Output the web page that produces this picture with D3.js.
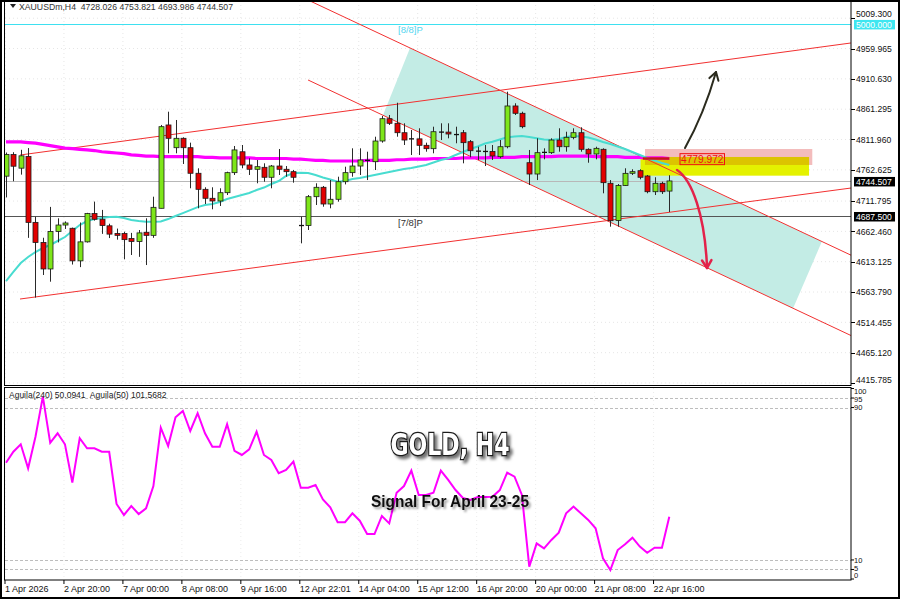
<!DOCTYPE html>
<html><head><meta charset="utf-8">
<script src="https://cdn.jsdelivr.net/npm/d3@7/dist/d3.min.js"></script>
<style>
html,body{margin:0;padding:0;background:#fff;overflow:hidden}
svg{display:block}
text{font-family:Arial,"Liberation Sans",sans-serif}
</style></head><body>
<svg id="chart" width="900" height="599"></svg>
<script>
// ---------------- data ----------------
const headerText = "XAUUSDm,H4  4728.026 4753.821 4693.986 4744.507";
const indicatorHeader = "Aguila(240) 50.0941  Aguila(50) 101.5682";

const openP = [4752.3,4787.5,4765.3,4784.3,4677.1,4644.5,4601.3,4662.4,4672.8,4667.5,
4614.5,4645.4,4691.4,4682.2,4671.5,4659.0,4659.0,4651.0,4646.0,4661.0,
4656.0,4700.0,4835.6,4798.6,4813.9,4798.6,4757.0,4730.9,4716.3,4711.9,
4725.4,4758.0,4792.0,4770.5,4763.5,4766.7,4750.5,4768.8,4763.5,4759.6,
4673.5,4672.0,4718.9,4734.2,4707.0,4714.7,4743.3,4758.0,4768.8,4778.6,
4775.8,4809.5,4845.8,4838.3,4823.0,4813.5,4813.0,4802.5,4797.0,4824.6,
4824.0,4820.9,4823.0,4808.4,4793.7,4793.0,4792.5,4784.0,4800.2,4866.5,
4854.6,4774.2,4755.8,4790.5,4790.5,4811.1,4800.2,4815.5,4823.0,4796.0,
4788.4,4796.0,4740.7,4680.0,4737.0,4757.0,4761.2,4752.6,4727.0,4740.7,
4728.026];
const highP = [4790.8,4791.3,4795.2,4798.0,4686.3,4652.1,4702.3,4683.7,4678.7,4668.6,
4676.9,4692.6,4710.9,4697.4,4674.9,4667.0,4662.0,4660.0,4664.7,4683.7,
4718.9,4835.6,4857.2,4843.7,4815.5,4806.8,4765.1,4734.2,4734.2,4732.6,
4759.6,4801.4,4803.0,4781.4,4778.6,4773.2,4770.5,4796.5,4768.8,4762.3,
4686.3,4721.6,4740.7,4736.3,4746.0,4751.4,4767.7,4797.6,4797.6,4792.1,
4816.5,4850.2,4851.8,4871.8,4838.3,4827.4,4830.2,4806.8,4832.8,4838.3,
4838.3,4832.8,4827.4,4811.1,4800.2,4803.0,4803.0,4811.1,4889.7,4870.9,
4857.2,4794.9,4813.9,4797.6,4813.9,4830.2,4824.6,4830.2,4831.8,4797.6,
4800.2,4797.6,4746.0,4739.5,4765.1,4763.5,4763.5,4754.2,4750.5,4743.3,
4753.821];
const lowP = [4717.7,4744.0,4754.8,4651.9,4554.7,4591.5,4580.6,4644.5,4666.4,4608.5,
4604.3,4644.3,4680.0,4658.4,4651.6,4649.0,4617.0,4624.0,4621.0,4607.7,
4652.0,4700.0,4789.5,4789.5,4772.1,4732.6,4700.0,4707.0,4698.4,4703.8,
4721.6,4754.2,4765.1,4754.2,4740.7,4743.3,4732.6,4754.2,4751.4,4741.7,
4643.0,4664.7,4705.4,4702.6,4700.0,4710.8,4738.9,4751.4,4754.2,4746.0,
4762.3,4806.8,4835.6,4816.5,4803.0,4786.7,4786.7,4792.1,4789.5,4811.1,
4813.9,4805.8,4773.2,4783.0,4778.6,4768.8,4778.6,4781.4,4797.6,4851.8,
4830.2,4737.9,4746.0,4779.7,4788.4,4792.1,4792.1,4812.3,4792.1,4774.2,
4779.7,4724.4,4670.1,4670.1,4736.3,4754.2,4747.2,4724.4,4721.6,4723.3,
4693.986];
const closeP = [4787.5,4768.5,4785.4,4677.1,4644.5,4601.3,4662.4,4672.8,4676.1,4614.5,
4645.4,4691.4,4682.2,4672.0,4658.0,4656.0,4649.0,4646.0,4660.0,4656.0,
4701.6,4832.8,4813.9,4813.9,4798.6,4757.0,4730.9,4716.3,4711.9,4725.4,
4758.0,4795.0,4770.5,4763.5,4767.7,4750.5,4768.8,4763.5,4759.6,4750.5,
4672.0,4718.9,4734.2,4707.0,4714.7,4743.3,4758.0,4768.8,4778.6,4778.0,
4809.5,4845.8,4838.3,4823.0,4811.1,4813.0,4802.5,4797.0,4824.6,4824.0,
4820.9,4820.0,4806.8,4793.7,4793.0,4792.5,4785.1,4800.2,4866.5,4854.6,
4832.8,4755.8,4790.5,4791.0,4811.1,4800.2,4815.5,4823.0,4796.0,4788.4,
4797.6,4741.7,4679.8,4737.0,4756.9,4759.6,4750.5,4727.0,4740.7,4727.0,
4744.507];

// slow moving average (magenta) and fast moving average (turquoise)
const maSlow = [4808,4808,4808,4807,4806,4804,4802,4800,4798,4797,
4796,4795,4794,4792,4791,4790,4789,4787,4786,4785,
4785,4784,4784,4784,4784,4784,4784,4783,4783,4782,
4782,4782,4782,4782,4781,4781,4781,4781,4781,4780,
4780,4779,4778,4778,4777,4777,4777,4777,4777,4778,
4778,4778,4778,4779,4779,4780,4780,4780,4781,4781,
4781,4781,4782,4782,4782,4782,4783,4783,4783,4783,
4784,4784,4784,4784,4784,4785,4785,4785,4785,4785,
4784,4784,4784,4784,4783,4783,4783,4782,4782,4782,4781];
const maFast = [4581.7,4596.4,4611.0,4620.8,4628.9,4635.4,4640.3,4646.8,4653.3,4663.0,
4672.8,4679.3,4682.5,4684.2,4685.8,4686.3,4684.2,4680.9,4679.3,4678.2,
4678.2,4678.5,4682.5,4687.4,4692.2,4697.1,4702.0,4705.4,4706.9,4710.3,
4715.1,4718.4,4721.6,4724.9,4729.8,4733.8,4739.5,4744.4,4752.6,4757.4,
4757.9,4757.4,4754.2,4750.1,4746.9,4743.3,4744.4,4747.7,4749.3,4751.7,
4754.2,4756.6,4759.1,4761.5,4764.0,4765.6,4768.0,4770.5,4774.5,4778.6,
4781.4,4786.7,4791.6,4796.5,4800.6,4805.4,4808.4,4812.0,4815.5,4816.8,
4817.6,4816.0,4813.9,4812.0,4811.1,4812.8,4816.0,4817.6,4816.8,4815.2,
4812.0,4807.9,4804.6,4800.6,4796.5,4791.6,4786.7,4781.9,4777.8,4773.7,4770.5];

const aguila = [61.0,66.8,70.7,58.1,74.7,95.7,71.5,76.5,70.7,50.6,
73.9,68.6,68.6,66.8,66.8,39.4,33.6,38.3,34.1,37.1,
48.8,79.4,69.8,84.9,88.2,77.7,87.0,76.5,69.4,69.4,
81.2,67.3,65.1,68.1,77.3,65.1,62.5,55.5,57.2,61.6,
47.9,47.9,49.3,41.8,37.6,29.8,29.8,34.5,30.6,23.6,
23.6,33.1,29.2,45.3,48.8,56.9,44.1,44.1,45.3,56.9,
52.0,46.7,42.5,41.5,43.0,43.0,43.2,46.7,55.8,53.7,
44.1,6.5,18.7,16.1,20.5,24.3,34.5,38.0,34.5,31.0,
26.6,10.9,4.7,15.2,18.2,21.7,17.0,13.8,16.4,16.4,32.7];

const priceTickLabels = ["5009.300","4959.965","4910.630","4861.295","4811.960","4762.625",
"4711.795","4662.460","4613.125","4563.790","4514.455","4465.120","4415.785"];
const timeTickIndex = [0,8,16,24,32,40,48,56,64,72,80,88];
const timeTickLabels = ["1 Apr 2026","2 Apr 20:00","7 Apr 00:00","8 Apr 08:00","9 Apr 16:00",
"12 Apr 22:01","14 Apr 04:00","15 Apr 12:00","16 Apr 20:00","20 Apr 00:00","21 Apr 08:00","22 Apr 16:00"];
const indLevels = [100,95,90,10,5,0];
const indLabelY = [394,401.5,410,563,570.5,578];
const indDashed = [95,90,10,5];

// drawn objects (bar index, price)
const levelValues = [5000.0, 4744.507, 4687.5];
const levelNames = ["[8/8]P", "", "[7/8]P"];
const trendLines = [
  [[39.9,5045.0],[114.66,4623.7]],
  [[40.98,4908.8],[114.65,4493.0]],
  [[1.9,4786.7],[114.65,4969.0]],
  [[1.9,4552.4],[114.65,4733.0]]
];
const channelFill = [[54.82,4960.8],[110.7,4645.8],[106.8,4537.5],[51.15,4851.3]];
const pinkZone = [[86.7,4796.5],[109.4,4770.5]];
const yellowZone = [[86.1,4783.5],[108.96,4753.1]];
const markLevel = 4779.972;
const markSegment = [[86.4,4781],[90.0,4781]];
const upArrow = [[92.13,4798.1],[93.49,4827.4],[95.25,4876.2],[96.34,4921.8]];
const downArrow = [[91.05,4762.3],[93.08,4746.1],[94.84,4689.1],[95.12,4602.9]];

// ---------------- layout ----------------
const L = 5, R = 851, mainTop = 1, mainBot = 385, indTop = 388, indBot = 580;
const x = d3.scaleLinear().domain([0, 90]).range([6, 669.3]);
const y = d3.scaleLinear().domain([4412.5, 5030.8]).range([385, 5]);
const yi = d3.scaleLinear().domain([0, 100]).range([579, 388.5]);

const svg = d3.select("#chart");
svg.append("rect").attr("width", 900).attr("height", 599).attr("fill", "#fff");

const defs = svg.append("defs");
defs.append("clipPath").attr("id", "cm").append("rect")
  .attr("x", L).attr("y", mainTop).attr("width", R - L).attr("height", mainBot - mainTop);
defs.append("clipPath").attr("id", "ci").append("rect")
  .attr("x", L).attr("y", indTop).attr("width", R - L).attr("height", indBot - indTop);
const f1 = defs.append("filter").attr("id", "sh1").attr("x", "-20%").attr("y", "-30%").attr("width", "150%").attr("height", "180%");
f1.append("feGaussianBlur").attr("in", "SourceAlpha").attr("stdDeviation", 1.6);
f1.append("feOffset").attr("dx", 2.5).attr("dy", 3).attr("result", "o");
f1.append("feFlood").attr("flood-color", "#000").attr("flood-opacity", 0.55);
f1.append("feComposite").attr("in2", "o").attr("operator", "in");
const m1 = f1.append("feMerge"); m1.append("feMergeNode"); m1.append("feMergeNode").attr("in", "SourceGraphic");
const f2 = defs.append("filter").attr("id", "sh2").attr("x", "-20%").attr("y", "-30%").attr("width", "150%").attr("height", "180%");
f2.append("feGaussianBlur").attr("in", "SourceAlpha").attr("stdDeviation", 1);
f2.append("feOffset").attr("dx", 2).attr("dy", 2).attr("result", "o");
f2.append("feFlood").attr("flood-color", "#000").attr("flood-opacity", 0.4);
f2.append("feComposite").attr("in2", "o").attr("operator", "in");
const m2 = f2.append("feMerge"); m2.append("feMergeNode"); m2.append("feMergeNode").attr("in", "SourceGraphic");

const priceTicks = priceTickLabels.map(Number);
const idx = d3.range(openP.length);

// ---------------- main panel ----------------
const gm = svg.append("g").attr("clip-path", "url(#cm)");

// faint grid
gm.selectAll(".gh").data(priceTicks).join("line")
  .attr("x1", L).attr("x2", R).attr("y1", d => y(d)).attr("y2", d => y(d))
  .attr("stroke", "#e6e6e6").attr("stroke-dasharray", "1,3");
gm.selectAll(".gv").data(timeTickIndex).join("line")
  .attr("x1", d => x(d) - 1).attr("x2", d => x(d) - 1).attr("y1", mainTop).attr("y2", mainBot)
  .attr("stroke", "#e6e6e6").attr("stroke-dasharray", "1,3");

// channel fill
gm.append("polygon")
  .attr("points", channelFill.map(d => [x(d[0]), y(d[1])].join(",")).join(" "))
  .attr("fill", "#c3ece5");

// zones
function zoneRect(z, col) {
  gm.append("rect").attr("x", x(z[0][0])).attr("y", y(z[0][1]))
    .attr("width", x(z[1][0]) - x(z[0][0])).attr("height", y(z[1][1]) - y(z[0][1])).attr("fill", col);
}
zoneRect(pinkZone, "#f3bcbc");
zoneRect(yellowZone, "#e4f200");
const ov = [[Math.max(pinkZone[0][0], yellowZone[0][0]), Math.min(pinkZone[0][1], yellowZone[0][1])],
            [Math.min(pinkZone[1][0], yellowZone[1][0]), Math.max(pinkZone[1][1], yellowZone[1][1])]];
zoneRect(ov, "#dcc400");

// horizontal levels
const levelColors = ["#3ee0f0", "#b8b8b8", "#555555"];
gm.selectAll(".lv").data(levelValues).join("line")
  .attr("x1", L).attr("x2", R).attr("y1", d => Math.round(y(d)) + 0.5).attr("y2", d => Math.round(y(d)) + 0.5)
  .attr("stroke", (d, i) => levelColors[i]).attr("stroke-width", 1);
gm.append("text").attr("x", 398).attr("y", y(levelValues[0]) + 9.5).attr("font-size", 9.5)
  .attr("fill", "#55d6f0").text(levelNames[0]);
gm.append("text").attr("x", 398).attr("y", y(levelValues[2]) + 10.5).attr("font-size", 9.5)
  .attr("fill", "#333").text(levelNames[2]);

// trend lines
gm.selectAll(".tl").data(trendLines).join("line")
  .attr("x1", d => x(d[0][0])).attr("y1", d => y(d[0][1]))
  .attr("x2", d => x(d[1][0])).attr("y2", d => y(d[1][1]))
  .attr("stroke", "#f23030").attr("stroke-width", 1);

// moving averages
const line = d3.line().x((d, i) => x(i)).y(d => y(d));
gm.append("path").datum(maSlow).attr("d", line).attr("fill", "none")
  .attr("stroke", "#ff00ff").attr("stroke-width", 3.2);
gm.append("path").datum(maFast).attr("d", line).attr("fill", "none")
  .attr("stroke", "#48dcd0").attr("stroke-width", 2);

// candles
const cg = gm.append("g");
cg.selectAll(".wk").data(idx).join("line")
  .attr("x1", i => Math.round(x(i)) + 0.5).attr("x2", i => Math.round(x(i)) + 0.5)
  .attr("y1", i => y(highP[i])).attr("y2", i => y(lowP[i]))
  .attr("stroke", "#2a2a2a").attr("stroke-width", 1);
cg.selectAll(".bd").data(idx.filter(i => Math.abs(y(openP[i]) - y(closeP[i])) >= 1.5)).join("rect")
  .attr("x", i => Math.round(x(i)) - 2).attr("width", 5)
  .attr("y", i => Math.min(y(openP[i]), y(closeP[i])))
  .attr("height", i => Math.abs(y(openP[i]) - y(closeP[i])))
  .attr("fill", i => closeP[i] >= openP[i] ? "#7ee61a" : "#e20000")
  .attr("stroke", "#1a1a1a").attr("stroke-width", 0.8);
cg.selectAll(".dj").data(idx.filter(i => Math.abs(y(openP[i]) - y(closeP[i])) < 1.5)).join("line")
  .attr("x1", i => Math.round(x(i)) - 2).attr("x2", i => Math.round(x(i)) + 3)
  .attr("y1", i => y(closeP[i])).attr("y2", i => y(closeP[i]))
  .attr("stroke", "#111").attr("stroke-width", 1.3);

// marker segment + label
gm.append("line").attr("x1", x(markSegment[0][0])).attr("x2", x(markSegment[1][0]))
  .attr("y1", y(markSegment[0][1])).attr("y2", y(markSegment[1][1]))
  .attr("stroke", "#c81818").attr("stroke-width", 2.5);
const mk = gm.append("text").attr("x", 681).attr("y", y(markLevel) + 3.6).attr("font-size", 10.2)
  .attr("fill", "#f01010").text(markLevel.toFixed(3));
const mw = mk.node().getComputedTextLength();
gm.append("rect").attr("x", 680).attr("y", y(markLevel) - 5.5).attr("width", mw + 2).attr("height", 11)
  .attr("fill", "none").attr("stroke", "#f01010").attr("stroke-width", 1);

// arrows
function arrow(pts, col, w, head) {
  const p = pts.map(d => [x(d[0]), y(d[1])]);
  const pa = d3.path();
  pa.moveTo(p[0][0], p[0][1]);
  pa.bezierCurveTo(p[1][0], p[1][1], p[2][0], p[2][1], p[3][0], p[3][1]);
  gm.append("path").attr("d", pa.toString()).attr("fill", "none").attr("stroke", col)
    .attr("stroke-width", w).attr("stroke-linecap", "round");
  const dx = p[3][0] - p[2][0], dy = p[3][1] - p[2][1];
  const a = Math.atan2(dy, dx);
  const h = d3.path();
  [a + Math.PI - 0.55, a + Math.PI + 0.55].forEach(b => {
    h.moveTo(p[3][0], p[3][1]);
    h.lineTo(p[3][0] + head * Math.cos(b), p[3][1] + head * Math.sin(b));
  });
  gm.append("path").attr("d", h.toString()).attr("fill", "none").attr("stroke", col)
    .attr("stroke-width", w).attr("stroke-linecap", "round");
}
arrow(upArrow, "#2b2b1e", 2, 9);
arrow(downArrow, "#e3224a", 2.5, 9);

// header
svg.append("path").attr("d", "M10,4 L16,4 L13,8 Z").attr("fill", "#222");
svg.append("text").attr("x", 19).attr("y", 10).attr("font-size", 8.7).attr("fill", "#333")
  .style("white-space", "pre").text(headerText);

// ---------------- indicator panel ----------------
const gi = svg.append("g").attr("clip-path", "url(#ci)");
gi.selectAll(".gv").data(timeTickIndex).join("line")
  .attr("x1", d => x(d) - 1).attr("x2", d => x(d) - 1).attr("y1", indTop).attr("y2", indBot)
  .attr("stroke", "#ececec").attr("stroke-dasharray", "1,3");
gi.selectAll(".dl").data(indDashed).join("line")
  .attr("x1", L).attr("x2", R).attr("y1", d => Math.round(yi(d)) + 0.5).attr("y2", d => Math.round(yi(d)) + 0.5)
  .attr("stroke", "#bdbdbd").attr("stroke-dasharray", "3,2");
gi.append("path").datum(aguila)
  .attr("d", d3.line().x((d, i) => x(i)).y(d => yi(d)))
  .attr("fill", "none").attr("stroke", "#ff00ff").attr("stroke-width", 2);
svg.append("text").attr("x", 9).attr("y", 398).attr("font-size", 8.5).attr("fill", "#222")
  .style("white-space", "pre").text(indicatorHeader);

svg.append("text").attr("x", 450).attr("y", 455).attr("text-anchor", "middle")
  .attr("font-size", 30).attr("font-weight", "bold")
  .style("font-family", "'Liberation Sans Narrow','DejaVu Sans Condensed',Arial,sans-serif")
  .attr("textLength", 119).attr("lengthAdjust", "spacingAndGlyphs")
  .attr("fill", "#fff").attr("stroke", "#1a1a1a").attr("stroke-width", 2.4)
  .attr("paint-order", "stroke").attr("filter", "url(#sh1)").text("GOLD, H4");
svg.append("text").attr("x", 450).attr("y", 507).attr("text-anchor", "middle")
  .attr("font-size", 17).attr("font-weight", "bold")
  .attr("textLength", 158).attr("lengthAdjust", "spacingAndGlyphs")
  .attr("fill", "#111").attr("filter", "url(#sh2)").text("Signal For April 23-25");

// ---------------- axes ----------------
const ax = svg.append("g");
ax.selectAll(".pt").data(priceTicks).join("line")
  .attr("x1", R).attr("x2", R + 4).attr("y1", d => Math.round(y(d)) + 0.5).attr("y2", d => Math.round(y(d)) + 0.5)
  .attr("stroke", "#000");
ax.selectAll(".pl").data(priceTickLabels).join("text")
  .attr("x", 856).attr("y", d => Math.min(y(+d) + 3.2, 382.5) - (+d > 5005 ? 4 : 0))
  .attr("font-size", 8.6).attr("fill", "#111").text(d => d);

// level labels on axis
const boxCols = ["#3ee6f0", "#000", "#000"];
levelValues.forEach((v, i) => {
  ax.append("rect").attr("x", 854).attr("y", y(v) - 4).attr("width", 41).attr("height", 9.5).attr("fill", boxCols[i]);
  ax.append("text").attr("x", 856).attr("y", y(v) + 3.8).attr("font-size", 8.6).attr("fill", "#fff").text(v.toFixed(3));
});

// indicator axis
ax.selectAll(".il").data(indLevels).join("text")
  .attr("x", 854).attr("y", (d, i) => indLabelY[i])
  .attr("font-size", 7.5).attr("fill", "#111")
  .text(d => d);
ax.selectAll(".it").data(indLevels).join("line")
  .attr("x1", R).attr("x2", R + 3).attr("y1", d => yi(d)).attr("y2", d => yi(d)).attr("stroke", "#000");

// time axis
ax.selectAll(".tt").data(timeTickIndex).join("line")
  .attr("x1", d => x(d) - 1).attr("x2", d => x(d) - 1).attr("y1", indBot).attr("y2", indBot + 4)
  .attr("stroke", "#000");
ax.selectAll(".tx").data(timeTickIndex).join("text")
  .attr("x", d => x(d) - 1).attr("y", 592).attr("font-size", 9).attr("fill", "#111")
  .text((d, i) => timeTickLabels[i]);

// ---------------- frames ----------------
const fr = svg.append("g").attr("fill", "none").attr("stroke", "#000");
fr.append("rect").attr("x", L - 0.5).attr("y", 0.5).attr("width", R - L + 0.5).attr("height", mainBot).attr("stroke-width", 1);
fr.append("rect").attr("x", L - 0.5).attr("y", indTop - 0.5).attr("width", R - L + 0.5).attr("height", indBot - indTop + 0.5).attr("stroke-width", 1);
fr.append("rect").attr("x", 1).attr("y", 1).attr("width", 898).attr("height", 597).attr("stroke-width", 2);
</script>
</body></html>
